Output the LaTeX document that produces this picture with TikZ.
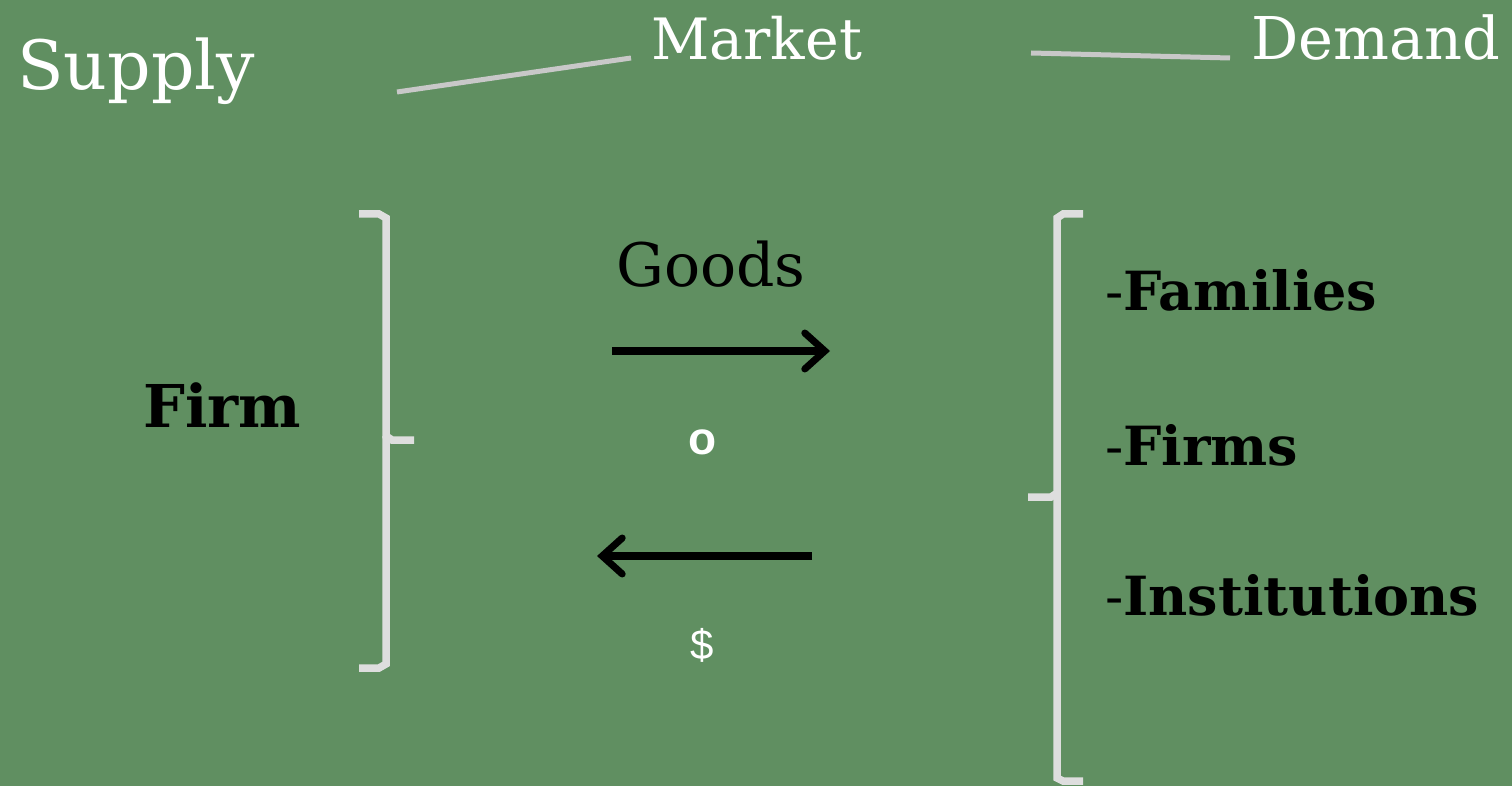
\documentclass[tikz,border=0pt]{standalone}
\usepackage{fontspec}
\setmainfont{DejaVu Serif}
\newfontfamily\symfont{Liberation Sans}
\usetikzlibrary{arrows.meta}
\definecolor{bg}{HTML}{608F61}
\definecolor{brk}{HTML}{DEDEDE}
\definecolor{lead}{HTML}{C8C8C8}
\tikzset{
  lbl/.style={inner sep=0pt, anchor=base west, text=white},
  blk/.style={inner sep=0pt, anchor=base west, text=black, font=\fontsize{54}{60}\selectfont\bfseries},
  brace/.style={draw=brk, line width=7.5pt, line join=miter, line cap=butt},
  leader/.style={draw=lead, line width=5pt},
  flow/.style={draw=black, line width=8pt, -{Straight Barb[length=20pt,width=36pt,line width=7pt,line cap=round]}}
}
\begin{document}
\begin{tikzpicture}[x=1pt,y=-1pt]
\fill[bg] (0,0) rectangle (1512,786);
\useasboundingbox (0,0) rectangle (1512,786);
% titles
\node[lbl, font=\fontsize{68}{72}\selectfont] (supply) at (17,90) {Supply};
\node[lbl, font=\fontsize{57}{64}\selectfont] (market) at (651,60) {Market};
\node[lbl, font=\fontsize{59}{64}\selectfont] (demand) at (1251,60) {Demand};
% leader lines
\coordinate (l1a) at (397,92);
\coordinate (l1b) at (631,58);
\coordinate (l2a) at (1031,53);
\coordinate (l2b) at (1230,58);
\draw[leader] (l1a) -- (l1b);
\draw[leader] (l2a) -- (l2b);
% left bracket
\draw[brace] (359,214) -- (379,214) -- (386,218) -- (386,436) -- (392,440) -- (414,440);
\draw[brace] (386,436) -- (386,664) -- (379,668) -- (359,668);
% right bracket
\draw[brace] (1083,214) -- (1063,214) -- (1057,218) -- (1057,493) -- (1051,497) -- (1028,497);
\draw[brace] (1057,493) -- (1057,778) -- (1063,781) -- (1083,781);
% left text
\node[blk, font=\fontsize{59}{64}\selectfont\bfseries] (firm) at (143,427) {Firm};
% middle
\node[inner sep=0pt, anchor=base west, font=\fontsize{60}{64}\selectfont] (goods) at (616,287) {Goods};
\coordinate (a1s) at (612,351);
\coordinate (a1e) at (830,351);
\coordinate (a2s) at (812,556);
\coordinate (a2e) at (597,556);
\draw[flow] (a1s) -- (a1e);
\draw[flow] (a2s) -- (a2e);
\node[inner sep=0pt, anchor=base, text=white, font=\symfont\bfseries\fontsize{46}{50}\selectfont] (bul1) at (703,454) {o};
\node[inner sep=0pt, text=white, font=\symfont\fontsize{42}{46}\selectfont] (bul2) at (702,645) {\$};
% demand list
\node[blk] (fam) at (1105,310) {{\mdseries -}Families};
\node[blk] (frm) at (1105,465) {{\mdseries -}Firms};
\node[blk] (ins) at (1105,615) {{\mdseries -}Institutions};
\end{tikzpicture}
\end{document}
